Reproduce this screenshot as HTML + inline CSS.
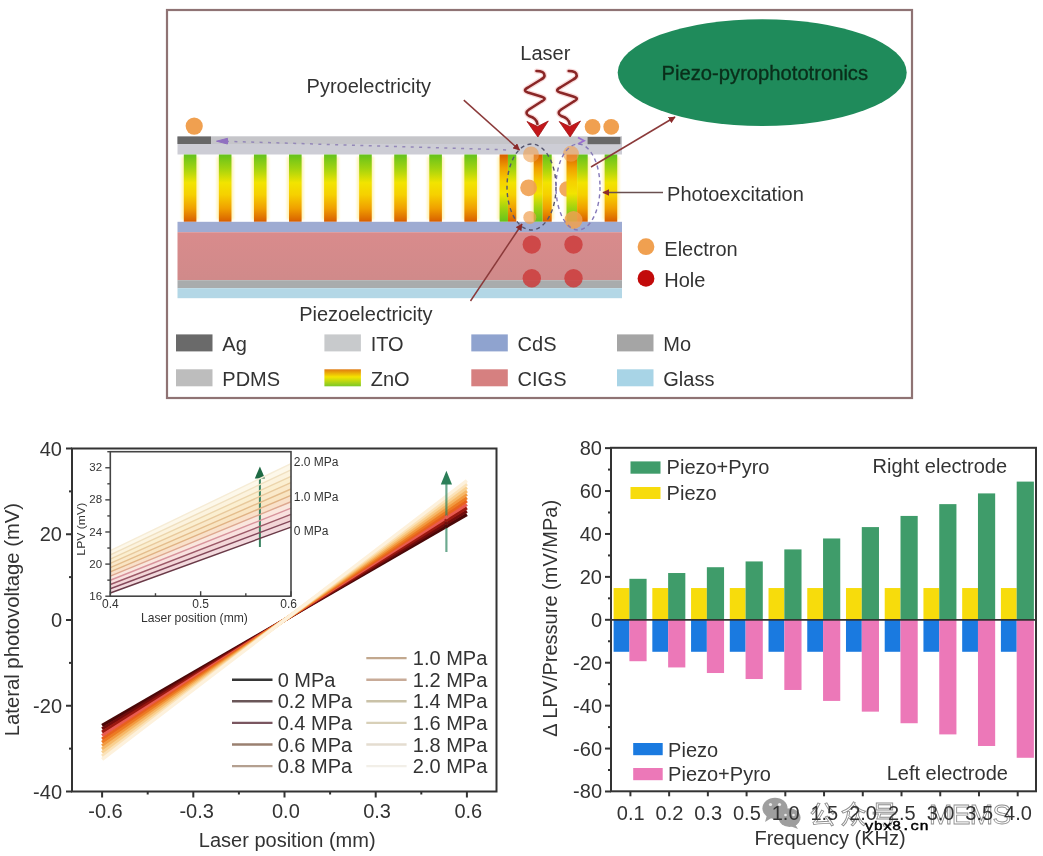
<!DOCTYPE html>
<html><head><meta charset="utf-8"><title>Piezo-pyrophototronics</title>
<style>html,body{margin:0;padding:0;background:#fff;width:1043px;height:856px;overflow:hidden}body{position:relative}svg{display:block}svg.main{filter:blur(0.55px)}svg.ov{position:absolute;left:0;top:0;filter:blur(0.15px)}</style>
</head><body>
<svg class="main" width="1043" height="856" viewBox="0 0 1043 856" font-family='"Liberation Sans", sans-serif'>
<defs>
<linearGradient id="rod" x1="0" y1="0" x2="0" y2="1">
  <stop offset="0" stop-color="#64c21c"/>
  <stop offset="0.22" stop-color="#a6d40e"/>
  <stop offset="0.42" stop-color="#f2e400"/>
  <stop offset="0.6" stop-color="#f6d000"/>
  <stop offset="0.8" stop-color="#f0a000"/>
  <stop offset="1" stop-color="#d85e00"/>
</linearGradient>
<linearGradient id="rodR" x1="0" y1="1" x2="0" y2="0">
  <stop offset="0" stop-color="#64c21c"/>
  <stop offset="0.22" stop-color="#a6d40e"/>
  <stop offset="0.42" stop-color="#f2e400"/>
  <stop offset="0.6" stop-color="#f6d000"/>
  <stop offset="0.8" stop-color="#f0a000"/>
  <stop offset="1" stop-color="#d85e00"/>
</linearGradient>
<linearGradient id="znoLeg" x1="0" y1="0" x2="0" y2="1">
  <stop offset="0" stop-color="#e07a10"/>
  <stop offset="0.45" stop-color="#f5e400"/>
  <stop offset="1" stop-color="#7cc828"/>
</linearGradient>
<linearGradient id="cigs" x1="0" y1="0" x2="0" y2="1">
  <stop offset="0" stop-color="#d98b8c"/>
  <stop offset="1" stop-color="#d08a8a"/>
</linearGradient>
<marker id="ahR" viewBox="0 0 10 10" refX="9" refY="5" markerWidth="7" markerHeight="7" orient="auto-start-reverse" markerUnits="userSpaceOnUse">
  <path d="M0,0 L10,5 L0,10 z" fill="#8b2a2a"/>
</marker>
<marker id="ahG" viewBox="0 0 10 10" refX="9" refY="5" markerWidth="7" markerHeight="7" orient="auto-start-reverse" markerUnits="userSpaceOnUse">
  <path d="M0,0 L10,5 L0,10 z" fill="#6a6a6a"/>
</marker>
<filter id="soft" x="-20%" y="-20%" width="140%" height="140%"><feGaussianBlur stdDeviation="0.6"/></filter>
<filter id="soft2" x="-20%" y="-20%" width="140%" height="140%"><feGaussianBlur stdDeviation="1.0"/></filter>
</defs>
<rect width="1043" height="856" fill="#fff"/>
<g id="top"><rect x="167" y="10" width="745" height="388" fill="#fff" stroke="#8f7374" stroke-width="2.2"/><ellipse cx="762.2" cy="72.6" rx="144.5" ry="53.4" fill="#1f8b5b"/><text x="661.6" y="79.6" font-size="20.2" fill="#0a2e1a" stroke="#0a2e1a" stroke-width="0.35">Piezo-pyrophototronics</text><rect x="177.5" y="136.5" width="444.5" height="18" fill="#cdcdd5"/><rect x="177.5" y="136.5" width="444.5" height="7.5" fill="#c5c5c9"/><rect x="177.5" y="136.5" width="33.5" height="7.5" fill="#686868"/><rect x="587.6" y="137" width="32.8" height="7.2" fill="#686868"/><g fill="#fff0a0" opacity="0.75" filter="url(#soft2)"><rect x="181.6" y="156.5" width="17" height="63.3"/><rect x="216.67" y="156.5" width="17" height="63.3"/><rect x="251.74" y="156.5" width="17" height="63.3"/><rect x="286.81" y="156.5" width="17" height="63.3"/><rect x="321.88" y="156.5" width="17" height="63.3"/><rect x="356.95" y="156.5" width="17" height="63.3"/><rect x="392.02" y="156.5" width="17" height="63.3"/><rect x="427.09" y="156.5" width="17" height="63.3"/><rect x="462.16" y="156.5" width="17" height="63.3"/><rect x="602.44" y="156.5" width="17" height="63.3"/><rect x="497.6" y="156.5" width="20.7" height="63.3"/><rect x="531.7" y="156.5" width="22" height="63.3"/><rect x="564.5" y="156.5" width="25.2" height="63.3"/></g><circle cx="567" cy="189" r="7.8" fill="#f0a050" opacity="0.9"/><rect x="183.8" y="154.5" width="12.6" height="67.3" fill="url(#rod)"/><rect x="218.87" y="154.5" width="12.6" height="67.3" fill="url(#rod)"/><rect x="253.94" y="154.5" width="12.6" height="67.3" fill="url(#rod)"/><rect x="289.01" y="154.5" width="12.6" height="67.3" fill="url(#rod)"/><rect x="324.08" y="154.5" width="12.6" height="67.3" fill="url(#rod)"/><rect x="359.15" y="154.5" width="12.6" height="67.3" fill="url(#rod)"/><rect x="394.22" y="154.5" width="12.6" height="67.3" fill="url(#rod)"/><rect x="429.29" y="154.5" width="12.6" height="67.3" fill="url(#rod)"/><rect x="464.36" y="154.5" width="12.6" height="67.3" fill="url(#rod)"/><rect x="604.64" y="154.5" width="12.6" height="67.3" fill="url(#rod)"/><rect x="499.6" y="154.5" width="8.35" height="67.3" fill="url(#rodR)"/><rect x="507.95" y="154.5" width="8.35" height="67.3" fill="url(#rod)"/><rect x="533.7" y="154.5" width="9" height="67.3" fill="url(#rodR)"/><rect x="542.7" y="154.5" width="9" height="67.3" fill="url(#rod)"/><rect x="566.5" y="154.5" width="10.6" height="67.3" fill="url(#rodR)"/><rect x="577.1" y="154.5" width="10.6" height="67.3" fill="url(#rod)"/><rect x="177.5" y="221.8" width="444.5" height="10.4" fill="#9eabd2"/><rect x="177.5" y="232.2" width="444.5" height="48" fill="url(#cigs)"/><rect x="177.5" y="280.2" width="444.5" height="8" fill="#a9acad"/><rect x="177.5" y="288.2" width="444.5" height="10" fill="#b3d7e6"/><circle cx="531.8" cy="244.6" r="9.2" fill="#cc3c3c" opacity="0.85"/><circle cx="573.5" cy="244.6" r="9.2" fill="#cc3c3c" opacity="0.85"/><circle cx="531.8" cy="278.2" r="9.2" fill="#cc3c3c" opacity="0.85"/><circle cx="573.5" cy="278.2" r="9.2" fill="#cc3c3c" opacity="0.85"/><circle cx="194.2" cy="126.1" r="8.6" fill="#f0a050" opacity="1"/><circle cx="592.6" cy="126.8" r="7.9" fill="#f0a050" opacity="1"/><circle cx="611.2" cy="126.8" r="7.9" fill="#f0a050" opacity="1"/><circle cx="531" cy="154.4" r="8" fill="#f0a050" opacity="0.6"/><circle cx="571" cy="153.8" r="8" fill="#f0a050" opacity="0.6"/><circle cx="528.6" cy="187.8" r="8.4" fill="#f0a050" opacity="0.9"/><circle cx="529.8" cy="217.4" r="6.5" fill="#f0a050" opacity="0.7"/><circle cx="573.5" cy="220" r="9" fill="#f0a050" opacity="0.85"/><path d="M226,141.3 L510,150" stroke="#9488b8" stroke-width="1.5" stroke-dasharray="3 5.4" fill="none"/><path d="M227.5,138.3 L216.5,141.2 L227.5,144 z" fill="#9070c0" stroke="#9070c0" stroke-width="1" stroke-linejoin="round"/><path d="M578,137.5 L584,140.8 L578,144" stroke="#9b6fd0" stroke-width="1.8" fill="none"/><ellipse cx="531.5" cy="187" rx="24.5" ry="43" stroke="#55556e" stroke-width="1.4" stroke-dasharray="4 3.5" fill="none"/><ellipse cx="578" cy="187" rx="22" ry="43" stroke="#8579b8" stroke-width="1.4" stroke-dasharray="4 3.5" fill="none"/><path d="M536.5 71 Q544 71 544.5 75 Q545 77.5 541 79.5 L528 87.5 Q522 90.5 528 92.5 L541 96.5 Q548 98.5 541.5 101.5 L529 109.5 Q524 113 529 116 Q537 118.5 537.4 124" stroke="#f3b8b8" stroke-width="5" fill="none" stroke-linecap="round" stroke-linejoin="round" opacity="0.5"/><path d="M536.5 71 Q544 71 544.5 75 Q545 77.5 541 79.5 L528 87.5 Q522 90.5 528 92.5 L541 96.5 Q548 98.5 541.5 101.5 L529 109.5 Q524 113 529 116 Q537 118.5 537.4 124" stroke="#8a2626" stroke-width="2.6" fill="none" stroke-linecap="round" stroke-linejoin="round"/><path d="M527,121.5 L537.6,126.5 L548.3,121 L537.9,137 z" fill="#c4161a" stroke="#a01414" stroke-width="0.8" stroke-linejoin="round"/><path d="M568.7 71 Q576.2 71 576.7 75 Q577.2 77.5 573.2 79.5 L560.2 87.5 Q554.2 90.5 560.2 92.5 L573.2 96.5 Q580.2 98.5 573.7 101.5 L561.2 109.5 Q556.2 113 561.2 116 Q569.2 118.5 569.6 124" stroke="#f3b8b8" stroke-width="5" fill="none" stroke-linecap="round" stroke-linejoin="round" opacity="0.5"/><path d="M568.7 71 Q576.2 71 576.7 75 Q577.2 77.5 573.2 79.5 L560.2 87.5 Q554.2 90.5 560.2 92.5 L573.2 96.5 Q580.2 98.5 573.7 101.5 L561.2 109.5 Q556.2 113 561.2 116 Q569.2 118.5 569.6 124" stroke="#8a2626" stroke-width="2.6" fill="none" stroke-linecap="round" stroke-linejoin="round"/><path d="M559.2,121.5 L569.8,126.5 L580.5,121 L570.1,137 z" fill="#c4161a" stroke="#a01414" stroke-width="0.8" stroke-linejoin="round"/><line x1="463.8" y1="100.1" x2="519.5" y2="150" stroke="#8b3a3a" stroke-width="1.5" marker-end="url(#ahR)"/><line x1="470.5" y1="301" x2="522" y2="224" stroke="#8b3a3a" stroke-width="1.5" marker-end="url(#ahR)"/><line x1="591" y1="167" x2="675" y2="117" stroke="#8b3a3a" stroke-width="1.5" marker-end="url(#ahR)"/><line x1="663" y1="192.5" x2="603" y2="192.5" stroke="#6a5050" stroke-width="1.5" marker-end="url(#ahR)"/><text x="520.3" y="60.2" font-size="20" fill="#333">Laser</text><text x="306.6" y="93.3" font-size="20" fill="#333">Pyroelectricity</text><text x="667.1" y="201.4" font-size="20" fill="#333">Photoexcitation</text><text x="299.2" y="320.7" font-size="20" fill="#333">Piezoelectricity</text><circle cx="646" cy="246.7" r="8.4" fill="#f0a050"/><text x="664.3" y="256.2" font-size="20" fill="#333">Electron</text><circle cx="646" cy="278.4" r="8.4" fill="#c20a0a"/><text x="664.3" y="286.8" font-size="20" fill="#333">Hole</text><rect x="176" y="334.4" width="36.5" height="17" fill="#6a6a6a"/><text x="222.3" y="351.4" font-size="20" fill="#333">Ag</text><rect x="324.4" y="334.4" width="36.5" height="17" fill="#c8cacc"/><text x="370.7" y="351.4" font-size="20" fill="#333">ITO</text><rect x="471.3" y="334.4" width="36.5" height="17" fill="#8fa3cf"/><text x="517.6" y="351.4" font-size="20" fill="#333">CdS</text><rect x="617" y="334.4" width="36.5" height="17" fill="#a5a5a5"/><text x="663.3" y="351.4" font-size="20" fill="#333">Mo</text><rect x="176" y="369.3" width="36.5" height="17" fill="#bdbdbd"/><text x="222.3" y="386.3" font-size="20" fill="#333">PDMS</text><rect x="324.4" y="369.3" width="36.5" height="17" fill="url(#znoLeg)"/><text x="370.7" y="386.3" font-size="20" fill="#333">ZnO</text><rect x="471.3" y="369.3" width="36.5" height="17" fill="#d68080"/><text x="517.6" y="386.3" font-size="20" fill="#333">CIGS</text><rect x="617" y="369.3" width="36.5" height="17" fill="#a8d4e6"/><text x="663.3" y="386.3" font-size="20" fill="#333">Glass</text></g>
<g id="left"><line x1="102.1" y1="725.47" x2="466.9" y2="514.53" stroke="#4a0808" stroke-width="3.4"/><line x1="102.1" y1="728.87" x2="466.9" y2="511.13" stroke="#700c0c" stroke-width="3.4"/><line x1="102.1" y1="732.26" x2="466.9" y2="507.74" stroke="#9a1810" stroke-width="3.4"/><line x1="102.1" y1="735.66" x2="466.9" y2="504.34" stroke="#e85a50" stroke-width="3.4"/><line x1="102.1" y1="739.06" x2="466.9" y2="500.94" stroke="#e8601e" stroke-width="3.4"/><line x1="102.1" y1="742.45" x2="466.9" y2="497.55" stroke="#ec7a22" stroke-width="3.4"/><line x1="102.1" y1="745.85" x2="466.9" y2="494.15" stroke="#f29a40" stroke-width="3.4"/><line x1="102.1" y1="749.24" x2="466.9" y2="490.76" stroke="#f6b868" stroke-width="3.4"/><line x1="102.1" y1="752.64" x2="466.9" y2="487.36" stroke="#f9d090" stroke-width="3.4"/><line x1="102.1" y1="756.03" x2="466.9" y2="483.97" stroke="#fbe2b8" stroke-width="3.4"/><line x1="102.1" y1="759.43" x2="466.9" y2="480.57" stroke="#fdf1dc" stroke-width="3.4"/><line x1="446.4" y1="552" x2="446.4" y2="482" stroke="#2f8660" stroke-width="2.2" opacity="0.7"/><path d="M440.8,484.5 L446.4,470.8 L452,484.5 z" fill="#2b7e58"/><line x1="445.1" y1="527.13" x2="447.7" y2="525.63" stroke="#4a0808" stroke-width="3.4"/><line x1="445.1" y1="524.14" x2="447.7" y2="522.59" stroke="#700c0c" stroke-width="3.4"/><line x1="445.1" y1="521.15" x2="447.7" y2="519.55" stroke="#9a1810" stroke-width="3.4"/><line x1="445.1" y1="518.16" x2="447.7" y2="516.52" stroke="#e85a50" stroke-width="3.4"/><rect x="72" y="448.5" width="424.5" height="343.0" fill="none" stroke="#333" stroke-width="2"/><line x1="66" y1="448.5" x2="72" y2="448.5" stroke="#333" stroke-width="2"/><text x="62" y="455.5" font-size="20" fill="#333" text-anchor="end">40</text><line x1="66" y1="534.25" x2="72" y2="534.25" stroke="#333" stroke-width="2"/><text x="62" y="541.25" font-size="20" fill="#333" text-anchor="end">20</text><line x1="66" y1="620" x2="72" y2="620" stroke="#333" stroke-width="2"/><text x="62" y="627" font-size="20" fill="#333" text-anchor="end">0</text><line x1="66" y1="705.75" x2="72" y2="705.75" stroke="#333" stroke-width="2"/><text x="62" y="712.75" font-size="20" fill="#333" text-anchor="end">-20</text><line x1="66" y1="791.5" x2="72" y2="791.5" stroke="#333" stroke-width="2"/><text x="62" y="798.5" font-size="20" fill="#333" text-anchor="end">-40</text><line x1="69" y1="491.38" x2="72" y2="491.38" stroke="#333" stroke-width="2"/><line x1="69" y1="577.12" x2="72" y2="577.12" stroke="#333" stroke-width="2"/><line x1="69" y1="662.88" x2="72" y2="662.88" stroke="#333" stroke-width="2"/><line x1="69" y1="748.62" x2="72" y2="748.62" stroke="#333" stroke-width="2"/><line x1="102.1" y1="791.5" x2="102.1" y2="797.5" stroke="#333" stroke-width="2"/><text x="105.5" y="818" font-size="20" fill="#333" text-anchor="middle">-0.6</text><line x1="193.3" y1="791.5" x2="193.3" y2="797.5" stroke="#333" stroke-width="2"/><text x="196.7" y="818" font-size="20" fill="#333" text-anchor="middle">-0.3</text><line x1="284.5" y1="791.5" x2="284.5" y2="797.5" stroke="#333" stroke-width="2"/><text x="285.9" y="818" font-size="20" fill="#333" text-anchor="middle">0.0</text><line x1="375.7" y1="791.5" x2="375.7" y2="797.5" stroke="#333" stroke-width="2"/><text x="377.1" y="818" font-size="20" fill="#333" text-anchor="middle">0.3</text><line x1="466.9" y1="791.5" x2="466.9" y2="797.5" stroke="#333" stroke-width="2"/><text x="468.3" y="818" font-size="20" fill="#333" text-anchor="middle">0.6</text><line x1="147.7" y1="791.5" x2="147.7" y2="794.5" stroke="#333" stroke-width="2"/><line x1="238.9" y1="791.5" x2="238.9" y2="794.5" stroke="#333" stroke-width="2"/><line x1="330.1" y1="791.5" x2="330.1" y2="794.5" stroke="#333" stroke-width="2"/><line x1="421.3" y1="791.5" x2="421.3" y2="794.5" stroke="#333" stroke-width="2"/><text x="287.2" y="846.7" font-size="20" fill="#333" text-anchor="middle">Laser position (mm)</text><text transform="translate(19,619.6) rotate(-90)" x="0" y="0" font-size="20.3" fill="#333" text-anchor="middle">Lateral photovoltage (mV)</text><line x1="232" y1="679.7" x2="272.5" y2="679.7" stroke="#363636" stroke-width="2.4"/><text x="277.7" y="686.7" font-size="20" fill="#333">0 MPa</text><line x1="232" y1="701.3" x2="272.5" y2="701.3" stroke="#6a5658" stroke-width="2.4"/><text x="277.7" y="708.3" font-size="20" fill="#333">0.2 MPa</text><line x1="232" y1="722.9" x2="272.5" y2="722.9" stroke="#7a5660" stroke-width="2.4"/><text x="277.7" y="729.9" font-size="20" fill="#333">0.4 MPa</text><line x1="232" y1="744.5" x2="272.5" y2="744.5" stroke="#9a8070" stroke-width="2.4"/><text x="277.7" y="751.5" font-size="20" fill="#333">0.6 MPa</text><line x1="232" y1="766.1" x2="272.5" y2="766.1" stroke="#b4a090" stroke-width="2.4"/><text x="277.7" y="773.1" font-size="20" fill="#333">0.8 MPa</text><line x1="366.3" y1="658.1" x2="406.6" y2="658.1" stroke="#c2a88e" stroke-width="2.4"/><text x="412.8" y="665.1" font-size="20" fill="#333">1.0 MPa</text><line x1="366.3" y1="679.7" x2="406.6" y2="679.7" stroke="#c8ab98" stroke-width="2.4"/><text x="412.8" y="686.7" font-size="20" fill="#333">1.2 MPa</text><line x1="366.3" y1="701.3" x2="406.6" y2="701.3" stroke="#cac2a8" stroke-width="2.4"/><text x="412.8" y="708.3" font-size="20" fill="#333">1.4 MPa</text><line x1="366.3" y1="722.9" x2="406.6" y2="722.9" stroke="#d8d0b8" stroke-width="2.4"/><text x="412.8" y="729.9" font-size="20" fill="#333">1.6 MPa</text><line x1="366.3" y1="744.5" x2="406.6" y2="744.5" stroke="#e4ddd0" stroke-width="2.4"/><text x="412.8" y="751.5" font-size="20" fill="#333">1.8 MPa</text><line x1="366.3" y1="766.1" x2="406.6" y2="766.1" stroke="#f2efe8" stroke-width="2.4"/><text x="412.8" y="773.1" font-size="20" fill="#333">2.0 MPa</text><rect x="110.3" y="451.7" width="180.7" height="144.5" fill="#fff"/><polygon points="110.3,592.99 291,527.16 291,520.8 110.3,588.75" fill="#f2d6da" opacity="0.9"/><polygon points="110.3,588.75 291,520.8 291,514.45 110.3,584.51" fill="#f2d2d4" opacity="0.9"/><polygon points="110.3,584.51 291,514.45 291,508.09 110.3,580.27" fill="#f8dedc" opacity="0.9"/><polygon points="110.3,580.27 291,508.09 291,501.73 110.3,576.03" fill="#fae4da" opacity="0.9"/><polygon points="110.3,576.03 291,501.73 291,495.37 110.3,571.8" fill="#f8dec4" opacity="0.9"/><polygon points="110.3,571.8 291,495.37 291,489.01 110.3,567.56" fill="#f8e2bc" opacity="0.9"/><polygon points="110.3,567.56 291,489.01 291,482.66 110.3,563.32" fill="#f9e7c4" opacity="0.9"/><polygon points="110.3,563.32 291,482.66 291,476.3 110.3,559.08" fill="#fbedcc" opacity="0.9"/><polygon points="110.3,559.08 291,476.3 291,469.94 110.3,554.84" fill="#fcf2da" opacity="0.9"/><polygon points="110.3,554.84 291,469.94 291,463.58 110.3,550.6" fill="#fdf7e8" opacity="0.9"/><line x1="259.9" y1="547" x2="259.9" y2="476" stroke="#3a8462" stroke-width="2"/><path d="M254.8,478.5 L259.9,466.4 L265,478.5 z" fill="#1f6a44"/><line x1="110.3" y1="592.99" x2="291" y2="527.16" stroke="#6a3a48" stroke-width="1.4"/><line x1="110.3" y1="588.75" x2="291" y2="520.8" stroke="#84485a" stroke-width="1.4"/><line x1="110.3" y1="584.51" x2="291" y2="514.45" stroke="#9c5a68" stroke-width="1.4"/><line x1="110.3" y1="580.27" x2="291" y2="508.09" stroke="#d8949c" stroke-width="1.4"/><line x1="110.3" y1="576.03" x2="291" y2="501.73" stroke="#dea890" stroke-width="1.4"/><line x1="110.3" y1="571.8" x2="291" y2="495.37" stroke="#e0b284" stroke-width="1.4"/><line x1="110.3" y1="567.56" x2="291" y2="489.01" stroke="#e4bd8c" stroke-width="1.4"/><line x1="110.3" y1="563.32" x2="291" y2="482.66" stroke="#e8c99c" stroke-width="1.4"/><line x1="110.3" y1="559.08" x2="291" y2="476.3" stroke="#ecd5ac" stroke-width="1.4"/><line x1="110.3" y1="554.84" x2="291" y2="469.94" stroke="#f0e0c0" stroke-width="1.4"/><line x1="110.3" y1="550.6" x2="291" y2="463.58" stroke="#f6ecd6" stroke-width="1.4"/><rect x="110.3" y="451.7" width="180.7" height="144.5" fill="none" stroke="#444" stroke-width="1.6"/><line x1="105.3" y1="596.2" x2="110.3" y2="596.2" stroke="#444" stroke-width="1.4"/><text x="102.1" y="599.8" font-size="11.5" fill="#333" text-anchor="end">16</text><line x1="105.3" y1="564.09" x2="110.3" y2="564.09" stroke="#444" stroke-width="1.4"/><text x="102.1" y="567.69" font-size="11.5" fill="#333" text-anchor="end">20</text><line x1="105.3" y1="531.98" x2="110.3" y2="531.98" stroke="#444" stroke-width="1.4"/><text x="102.1" y="535.58" font-size="11.5" fill="#333" text-anchor="end">24</text><line x1="105.3" y1="499.87" x2="110.3" y2="499.87" stroke="#444" stroke-width="1.4"/><text x="102.1" y="503.47" font-size="11.5" fill="#333" text-anchor="end">28</text><line x1="105.3" y1="467.76" x2="110.3" y2="467.76" stroke="#444" stroke-width="1.4"/><text x="102.1" y="471.36" font-size="11.5" fill="#333" text-anchor="end">32</text><line x1="107.3" y1="580.14" x2="110.3" y2="580.14" stroke="#444" stroke-width="1.4"/><line x1="107.3" y1="548.03" x2="110.3" y2="548.03" stroke="#444" stroke-width="1.4"/><line x1="107.3" y1="515.92" x2="110.3" y2="515.92" stroke="#444" stroke-width="1.4"/><line x1="107.3" y1="483.81" x2="110.3" y2="483.81" stroke="#444" stroke-width="1.4"/><line x1="107.3" y1="451.7" x2="110.3" y2="451.7" stroke="#444" stroke-width="1.4"/><line x1="110.3" y1="596.2" x2="110.3" y2="591.2" stroke="#444" stroke-width="1.4"/><text x="110.3" y="608" font-size="12" fill="#333" text-anchor="middle">0.4</text><line x1="200.65" y1="596.2" x2="200.65" y2="591.2" stroke="#444" stroke-width="1.4"/><text x="200.65" y="608" font-size="12" fill="#333" text-anchor="middle">0.5</text><line x1="291" y1="596.2" x2="291" y2="591.2" stroke="#444" stroke-width="1.4"/><text x="288.7" y="608" font-size="12" fill="#333" text-anchor="middle">0.6</text><line x1="155.47" y1="596.2" x2="155.47" y2="593.2" stroke="#444" stroke-width="1.4"/><line x1="245.82" y1="596.2" x2="245.82" y2="593.2" stroke="#444" stroke-width="1.4"/><text x="194.4" y="622" font-size="12.1" fill="#333" text-anchor="middle">Laser position (mm)</text><text transform="translate(84.6,529.2) rotate(-90) scale(1.09,1)" font-size="11.2" fill="#333" text-anchor="middle">LPV (mV)</text><text x="293.8" y="466" font-size="12" fill="#333">2.0 MPa</text><text x="293.8" y="500.5" font-size="12" fill="#333">1.0 MPa</text><text x="293.8" y="534.7" font-size="12" fill="#333">0 MPa</text></g>
<g id="wm"><g fill="#8e8e8e" opacity="0.85"><ellipse cx="775" cy="808.3" rx="12.6" ry="10.6"/><path d="M767,815 L765,822 L773,817 z"/><ellipse cx="789.5" cy="817.6" rx="11" ry="9.4"/><path d="M795,824 L798,829 L790,826 z"/></g><g fill="#fff" opacity="0.8"><circle cx="770.5" cy="804.5" r="1.6"/><circle cx="779.5" cy="804.5" r="1.6"/><circle cx="785.5" cy="815" r="1.3"/><circle cx="793.5" cy="815" r="1.3"/></g><text x="809.5" y="823.5" font-size="26" letter-spacing="5" fill="none" stroke="#7a7a7a" stroke-width="0.9" opacity="0.85" font-family="'Liberation Sans', 'Noto Sans CJK SC', sans-serif">公众号</text><text x="929" y="823.5" font-size="28" letter-spacing="-0.6" fill="none" stroke="#7a7a7a" stroke-width="0.9" opacity="0.85" font-family="'Liberation Sans', sans-serif">MEMS</text></g>
<g id="right"><rect x="613.6" y="588.04" width="15.8" height="31.76" fill="#f7dc0c"/><rect x="613.6" y="619.8" width="15.8" height="31.98" fill="#1a7ae0"/><rect x="629.4" y="578.81" width="17.2" height="40.99" fill="#3f9c6a"/><rect x="629.4" y="619.8" width="17.2" height="41.42" fill="#ec78b8"/><rect x="652.33" y="588.04" width="15.8" height="31.76" fill="#f7dc0c"/><rect x="652.33" y="619.8" width="15.8" height="31.98" fill="#1a7ae0"/><rect x="668.13" y="573.02" width="17.2" height="46.78" fill="#3f9c6a"/><rect x="668.13" y="619.8" width="17.2" height="47.64" fill="#ec78b8"/><rect x="691.06" y="588.04" width="15.8" height="31.76" fill="#f7dc0c"/><rect x="691.06" y="619.8" width="15.8" height="31.98" fill="#1a7ae0"/><rect x="706.86" y="567.22" width="17.2" height="52.58" fill="#3f9c6a"/><rect x="706.86" y="619.8" width="17.2" height="53.22" fill="#ec78b8"/><rect x="729.79" y="588.04" width="15.8" height="31.76" fill="#f7dc0c"/><rect x="729.79" y="619.8" width="15.8" height="31.98" fill="#1a7ae0"/><rect x="745.59" y="561.43" width="17.2" height="58.37" fill="#3f9c6a"/><rect x="745.59" y="619.8" width="17.2" height="59.23" fill="#ec78b8"/><rect x="768.52" y="588.04" width="15.8" height="31.76" fill="#f7dc0c"/><rect x="768.52" y="619.8" width="15.8" height="31.98" fill="#1a7ae0"/><rect x="784.32" y="549.41" width="17.2" height="70.39" fill="#3f9c6a"/><rect x="784.32" y="619.8" width="17.2" height="70.17" fill="#ec78b8"/><rect x="807.25" y="588.04" width="15.8" height="31.76" fill="#f7dc0c"/><rect x="807.25" y="619.8" width="15.8" height="31.98" fill="#1a7ae0"/><rect x="823.05" y="538.47" width="17.2" height="81.33" fill="#3f9c6a"/><rect x="823.05" y="619.8" width="17.2" height="81.12" fill="#ec78b8"/><rect x="845.98" y="588.04" width="15.8" height="31.76" fill="#f7dc0c"/><rect x="845.98" y="619.8" width="15.8" height="31.98" fill="#1a7ae0"/><rect x="861.78" y="527.09" width="17.2" height="92.71" fill="#3f9c6a"/><rect x="861.78" y="619.8" width="17.2" height="91.85" fill="#ec78b8"/><rect x="884.71" y="588.04" width="15.8" height="31.76" fill="#f7dc0c"/><rect x="884.71" y="619.8" width="15.8" height="31.98" fill="#1a7ae0"/><rect x="900.51" y="515.93" width="17.2" height="103.87" fill="#3f9c6a"/><rect x="900.51" y="619.8" width="17.2" height="103.44" fill="#ec78b8"/><rect x="923.44" y="588.04" width="15.8" height="31.76" fill="#f7dc0c"/><rect x="923.44" y="619.8" width="15.8" height="31.98" fill="#1a7ae0"/><rect x="939.24" y="504.13" width="17.2" height="115.67" fill="#3f9c6a"/><rect x="939.24" y="619.8" width="17.2" height="114.6" fill="#ec78b8"/><rect x="962.17" y="588.04" width="15.8" height="31.76" fill="#f7dc0c"/><rect x="962.17" y="619.8" width="15.8" height="31.98" fill="#1a7ae0"/><rect x="977.97" y="493.4" width="17.2" height="126.4" fill="#3f9c6a"/><rect x="977.97" y="619.8" width="17.2" height="126.18" fill="#ec78b8"/><rect x="1000.9" y="588.04" width="15.8" height="31.76" fill="#f7dc0c"/><rect x="1000.9" y="619.8" width="15.8" height="31.98" fill="#1a7ae0"/><rect x="1016.7" y="481.6" width="17.2" height="138.2" fill="#3f9c6a"/><rect x="1016.7" y="619.8" width="17.2" height="137.99" fill="#ec78b8"/><line x1="611" y1="619.8" x2="1036" y2="619.8" stroke="#333" stroke-width="1.8"/><rect x="611" y="447.8" width="425" height="343.5" fill="none" stroke="#333" stroke-width="2"/><line x1="605" y1="791.48" x2="611" y2="791.48" stroke="#333" stroke-width="2"/><text x="602" y="798.48" font-size="20" fill="#333" text-anchor="end">-80</text><line x1="605" y1="748.56" x2="611" y2="748.56" stroke="#333" stroke-width="2"/><text x="602" y="755.56" font-size="20" fill="#333" text-anchor="end">-60</text><line x1="605" y1="705.64" x2="611" y2="705.64" stroke="#333" stroke-width="2"/><text x="602" y="712.64" font-size="20" fill="#333" text-anchor="end">-40</text><line x1="605" y1="662.72" x2="611" y2="662.72" stroke="#333" stroke-width="2"/><text x="602" y="669.72" font-size="20" fill="#333" text-anchor="end">-20</text><line x1="605" y1="619.8" x2="611" y2="619.8" stroke="#333" stroke-width="2"/><text x="602" y="626.8" font-size="20" fill="#333" text-anchor="end">0</text><line x1="605" y1="576.88" x2="611" y2="576.88" stroke="#333" stroke-width="2"/><text x="602" y="583.88" font-size="20" fill="#333" text-anchor="end">20</text><line x1="605" y1="533.96" x2="611" y2="533.96" stroke="#333" stroke-width="2"/><text x="602" y="540.96" font-size="20" fill="#333" text-anchor="end">40</text><line x1="605" y1="491.04" x2="611" y2="491.04" stroke="#333" stroke-width="2"/><text x="602" y="498.04" font-size="20" fill="#333" text-anchor="end">60</text><line x1="605" y1="448.12" x2="611" y2="448.12" stroke="#333" stroke-width="2"/><text x="602" y="455.12" font-size="20" fill="#333" text-anchor="end">80</text><line x1="608" y1="770.02" x2="611" y2="770.02" stroke="#333" stroke-width="2"/><line x1="608" y1="727.1" x2="611" y2="727.1" stroke="#333" stroke-width="2"/><line x1="608" y1="684.18" x2="611" y2="684.18" stroke="#333" stroke-width="2"/><line x1="608" y1="641.26" x2="611" y2="641.26" stroke="#333" stroke-width="2"/><line x1="608" y1="598.34" x2="611" y2="598.34" stroke="#333" stroke-width="2"/><line x1="608" y1="555.42" x2="611" y2="555.42" stroke="#333" stroke-width="2"/><line x1="608" y1="512.5" x2="611" y2="512.5" stroke="#333" stroke-width="2"/><line x1="608" y1="469.58" x2="611" y2="469.58" stroke="#333" stroke-width="2"/><line x1="630.4" y1="791.3" x2="630.4" y2="796.3" stroke="#333" stroke-width="2"/><text x="630.7" y="820.3" font-size="20" fill="#333" text-anchor="middle">0.1</text><line x1="669.13" y1="791.3" x2="669.13" y2="796.3" stroke="#333" stroke-width="2"/><text x="669.43" y="820.3" font-size="20" fill="#333" text-anchor="middle">0.2</text><line x1="707.86" y1="791.3" x2="707.86" y2="796.3" stroke="#333" stroke-width="2"/><text x="708.16" y="820.3" font-size="20" fill="#333" text-anchor="middle">0.3</text><line x1="746.59" y1="791.3" x2="746.59" y2="796.3" stroke="#333" stroke-width="2"/><text x="746.89" y="820.3" font-size="20" fill="#333" text-anchor="middle">0.5</text><line x1="785.32" y1="791.3" x2="785.32" y2="796.3" stroke="#333" stroke-width="2"/><text x="785.62" y="820.3" font-size="20" fill="#333" text-anchor="middle">1.0</text><line x1="824.05" y1="791.3" x2="824.05" y2="796.3" stroke="#333" stroke-width="2"/><text x="824.35" y="820.3" font-size="20" fill="#333" text-anchor="middle">1.5</text><line x1="862.78" y1="791.3" x2="862.78" y2="796.3" stroke="#333" stroke-width="2"/><text x="863.08" y="820.3" font-size="20" fill="#333" text-anchor="middle">2.0</text><line x1="901.51" y1="791.3" x2="901.51" y2="796.3" stroke="#333" stroke-width="2"/><text x="901.81" y="820.3" font-size="20" fill="#333" text-anchor="middle">2.5</text><line x1="940.24" y1="791.3" x2="940.24" y2="796.3" stroke="#333" stroke-width="2"/><text x="940.54" y="820.3" font-size="20" fill="#333" text-anchor="middle">3.0</text><line x1="978.97" y1="791.3" x2="978.97" y2="796.3" stroke="#333" stroke-width="2"/><text x="979.27" y="820.3" font-size="20" fill="#333" text-anchor="middle">3.5</text><line x1="1017.7" y1="791.3" x2="1017.7" y2="796.3" stroke="#333" stroke-width="2"/><text x="1018" y="820.3" font-size="20" fill="#333" text-anchor="middle">4.0</text><text x="830" y="845.4" font-size="20" fill="#333" text-anchor="middle">Frequency (KHz)</text><text transform="translate(556.5,618.3) rotate(-90)" font-size="20" fill="#333" text-anchor="middle">Δ LPV/Pressure (mV/MPa)</text><rect x="630.5" y="461.4" width="30" height="12.3" fill="#3f9c6a"/><text x="666.6" y="474" font-size="20" fill="#333">Piezo+Pyro</text><rect x="630.5" y="487" width="30" height="12" fill="#f7dc0c"/><text x="666.6" y="499.5" font-size="20" fill="#333">Piezo</text><text x="872.6" y="473" font-size="20" fill="#333">Right electrode</text><rect x="633.2" y="743" width="29.5" height="12.2" fill="#1a7ae0"/><text x="668.1" y="757.3" font-size="20" fill="#333">Piezo</text><rect x="633.2" y="768" width="29.5" height="12.2" fill="#ec78b8"/><text x="668.1" y="780.5" font-size="20" fill="#333">Piezo+Pyro</text><text x="886.7" y="780.3" font-size="20" fill="#333">Left electrode</text></g>
</svg>
<svg class="ov" width="1043" height="856" viewBox="0 0 1043 856"><text transform="translate(864.6,829.6) scale(1.25,1)" font-size="12.2" fill="#000" stroke="#000" stroke-width="0.45" font-family="'Liberation Mono', monospace">ybx8.cn</text></svg>
</body></html>
